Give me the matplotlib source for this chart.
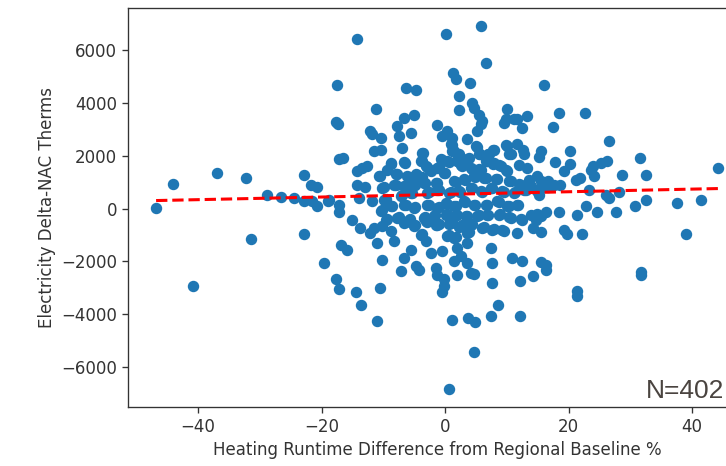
import matplotlib
matplotlib.use("Agg")
import matplotlib.pyplot as plt
import numpy as np

# points (x = runtime diff %, y = therms)
# everything outside the dense middle
outer_pts = [
    # top
    (-14.2, 6414), (0.2, 6630), (5.8, 6920), (6.7, 5530), (-17.5, 4680), (-6.4, 4554),
    (-4.7, 4478), (1.3, 5123), (1.7, 4896), (4.0, 4770), (2.2, 4262), (4.4, 4011),
    (-17.7, 3275), (-17.4, 3200), (-12.1, 2960),
    (16.0, 4680), (18.4, 3632), (22.6, 3632), (17.5, 3085), (26.5, 2554),
    # left
    (-46.8, 27), (-44.1, 937), (-37.0, 1355), (-32.2, 1150), (-31.5, -1150), (-28.8, 531),
    (-26.5, 444), (-24.4, 380), (-22.8, 1290), (-21.7, 884), (-20.7, 808), (-22.8, 277),
    (-21.6, 304), (-20.8, 87), (-18.9, 304), (-22.8, -949), (-19.6, -2061), (-40.8, -2949),
    (-17.2, 1860), (-16.5, 1935), (-14.2, 1416), (-13.4, 1544), (-12.6, 1605), (-14.2, 911),
    (-13.0, 808), (-14.0, 406), (-18.8, 342), (-17.2, 152), (-17.2, -125), (-15.0, -417),
    (-13.7, -733), (-12.1, -922), (-16.9, -1366), (-15.9, -1556),
    # bottom
    (-17.7, -2668), (-17.2, -3036), (-14.5, -3161), (-13.6, -3643), (-10.6, -3010),
    (-11.0, -4277), (-0.1, -2922), (-0.5, -3176), (7.6, -2820), (12.1, -2759),
    (8.6, -3643), (7.4, -4087), (12.1, -4087), (1.1, -4212), (3.8, -4148), (4.8, -4300),
    (4.7, -5454), (0.7, -6843), (4.7, -2467), (-4.2, -2315), (-0.2, -2668),
    (14.3, -2543), (21.4, -3138), (21.4, -3302), (31.7, -2417), (31.8, -2505), (16.3, -2315),
    # right
    (44.2, 1544), (20.2, 2201), (31.6, 1898), (15.5, 2201), (15.2, 1947), (12.7, 2239),
    (17.8, 1772), (20.2, 1696), (19.3, 1416), (23.9, 1605), (25.2, 1734),
    (26.3, 1795), (23.6, 1480), (21.2, 1100), (21.8, 1165), (24.1, 1226), (28.6, 1290),
    (32.5, 1290), (13.6, 1100), (14.9, 1226), (15.5, 1036), (16.6, 1036),
    (17.6, 911), (18.6, 884), (13.9, 846), (14.9, 657),
    (15.5, 786), (16.6, 808), (15.2, 531), (23.3, 721), (26.0, 531),
    (26.5, 406), (28.2, 633), (32.5, 315), (30.7, 114), (37.6, 216), (41.5, 315),
    (22.9, 87), (24.6, -125), (27.7, -125), (21.4, -254), (18.4, -125), (13.9, -228),
    (14.9, -201), (16.3, -125), (14.7, -417), (15.5, -292), (14.3, -733),
    (15.5, -884), (19.3, -797), (19.8, -949), (22.2, -949), (39.1, -949),
    (15.6, -2036), (16.3, -2125),
]

# middle block, x -12..14, y -2700..3950
core_pts = [
    (-11.26, 3757), (-5.05, 3567), (-6.67, 3441), (2.25, 3719), (4.68, 3820), (5.49, 3567),
    (6.03, 3314), (10.08, 3757), (9.81, 3378), (11.16, 3378), (13.32, 3504),
    (-7.75, 3125), (-7.48, 2745), (-5.59, 2872), (-1.26, 3163), (0.36, 2960), (-0.45, 2745),
    (1.17, 2682), (3.60, 2619), (5.76, 3188), (5.22, 2935), (9.54, 3251), (11.70, 3378),
    (12.51, 3062), (-11.80, 2809), (-10.45, 2682),
    (-11.53, 2176), (-10.45, 2239), (-6.94, 2302), (0.90, 2429), (1.44, 2176), (2.25, 2050),
    (4.95, 2366), (5.49, 2050), (7.92, 2239), (7.11, 2050), (6.57, 1796), (9.81, 2404),
    (11.70, 2429), (10.62, 2050), (12.78, 2050), (-3.70, 2113), (-3.97, 1796),
    (-8.83, 1733), (-6.67, 1771), (-9.37, 1480), (-3.16, 1607), (-2.35, 1417), (-1.26, 1544),
    (-0.72, 1860), (0.36, 1796), (1.98, 1796), (2.79, 1607), (3.87, 1923), (4.14, 1544),
    (5.76, 1480), (7.92, 1733), (9.00, 1607), (10.08, 1417), (11.97, 1670), (13.32, 1544),
    (-10.72, 1227), (-8.02, 1291), (-6.13, 1227), (-4.78, 1291), (-3.97, 1164), (-0.18, 1354),
    (-10.18, 784), (-8.29, 911), (-6.67, 848), (-5.05, 911), (-3.43, 974), (-1.54, 974),
    (1.44, 1037), (3.06, 1101), (4.68, 1227), (6.57, 1164), (8.46, 1101), (10.62, 1037),
    (12.24, 911), (-9.91, 342), (-7.21, 468), (-5.59, 595), (-2.89, 595), (-1.26, 721),
    (0.63, 595), (2.25, 658), (4.14, 784), (5.76, 658), (7.38, 784), (9.27, 658),
    (11.16, 595), (13.05, 721), (-11.80, 279),
    (-10.45, -101), (-8.83, 89), (-6.67, 152), (-5.05, 25), (-2.89, 152), (-1.26, 25),
    (0.09, 215), (1.44, 89), (3.06, 279), (4.68, 152), (6.57, 152), (8.46, 279),
    (10.08, 89), (11.70, 152), (-9.64, -417), (-7.75, -354), (-5.86, -417), (-3.43, -354),
    (-1.81, -291), (0.09, -228), (1.71, -228), (3.33, -291), (5.22, -291), (6.84, -228),
    (8.73, -228), (10.62, -354), (12.51, -417),
    (-11.53, -734), (-10.18, -670), (-6.67, -544), (-5.05, -670), (-3.16, -481), (-1.26, -607),
    (0.90, -544), (2.52, -670), (4.14, -607), (6.03, -734), (7.65, -797), (9.54, -860),
    (11.70, -923), (-8.83, -860), (-3.97, -987), (0.36, -1050), (1.44, -1113), (3.60, -923),
    (-10.99, -1303), (-8.29, -1240), (-3.16, -1240), (-2.35, -1682), (-0.45, -1619),
    (1.98, -1493), (3.60, -1303), (7.38, -1493), (-5.59, -1556), (-6.67, -1872), (2.52, -1809),
    (-10.18, -1935), (-4.78, -2188), (-1.54, -2252), (1.44, -1999), (3.60, -2062),
    (4.14, -2441), (-1.26, -2505), (1.98, -2505), (10.89, -1872), (12.51, -1999),
    (7.65, -2062), (-7.21, -2378),
]

# points hidden under others in the solid part of the cloud
hidden_pts = [
    (-3.0, 1580), (-2.5, 1450), (-1.0, 1570), (-0.5, 1830), (0.6, 1770), (2.2, 1760),
    (2.6, 1640), (3.6, 1890), (4.3, 1510), (5.5, 1500), (7.7, 1700), (8.8, 1640),
    (9.9, 1450), (-8.7, 1700), (-6.5, 1740), (-10.5, 1250), (-7.8, 1320), (-5.9, 1200),
    (-4.6, 1260), (-3.8, 1190), (0.0, 1330),
    (-9.9, 810), (-8.0, 880), (-6.4, 870), (-4.8, 880), (-3.2, 950), (-1.3, 950),
    (1.7, 1010), (3.3, 1070), (4.9, 1200), (6.3, 1140), (8.2, 1120), (10.4, 1060),
    (12.0, 940), (-9.6, 370), (-7.0, 500), (-5.3, 570), (-2.6, 620), (-1.0, 700),
    (0.9, 620), (2.5, 630), (4.4, 760), (6.0, 630), (7.6, 760), (9.5, 630),
    (11.4, 620), (12.8, 700),
    (-10.2, -70), (-8.6, 110), (-6.4, 130), (-4.8, 50), (-2.6, 130), (-1.0, 50),
    (0.3, 190), (1.7, 110), (3.3, 250), (4.9, 130), (6.8, 130), (8.7, 250),
    (10.3, 110), (11.9, 130), (-9.4, -390), (-7.5, -330), (-5.6, -390), (-3.2, -330),
    (-1.6, -260), (0.3, -200), (1.9, -250), (3.6, -270), (5.5, -260), (7.0, -250),
    (8.9, -200), (10.4, -330), (12.3, -390),
    (-6.4, -520), (-4.8, -640), (-3.0, -500), (-1.0, -580), (1.1, -520), (2.8, -640),
    (4.4, -580), (6.3, -710), (7.9, -770), (9.3, -830), (-3.7, -960), (0.6, -1020),
    (1.7, -1080), (3.9, -900), (-1.5, -630), (0.7, -570), (2.3, -700), (4.0, -630),
    (-3.5, 2090), (-3.7, 1820), (1.2, 2200), (2.0, 2070), (5.2, 2340), (5.7, 2070),
    (7.7, 2210), (6.9, 2070), (6.8, 1820), (10.0, 2380), (10.4, 2070), (1.1, 2400),
]

pts = np.array(outer_pts + core_pts + hidden_pts)
assert len(pts) == 402, len(pts)
x = pts[:, 0]
y = pts[:, 1]

fig = plt.figure(figsize=(7.26, 4.66), dpi=100)
ax = fig.add_axes([128 / 726, 59 / 466, 618 / 726, 399 / 466])

ax.scatter(x, y, s=52, color="#1f77b4", zorder=2)

# linear fit
m, b = np.polyfit(x, y, 1)
xs = np.sort(x)
ax.plot(xs, m * xs + b, "r--", linewidth=2.2, zorder=3)

ax.set_xlabel("Heating Runtime Difference from Regional Baseline %", fontsize=12, color="#333333")
ax.set_ylabel("Electricity Delta-NAC Therms", fontsize=12, color="#333333")
ax.tick_params(labelsize=12, length=4.2, width=0.96, colors="#333333")
for sp in ax.spines.values():
    sp.set_linewidth(0.96)
    sp.set_color("#333333")

fig.text(0.997, 68 / 466, "N=402", ha="right", va="baseline",
         fontsize=19, family="Liberation Sans", color="#4a4440")

fig.savefig("out.png", dpi=100)
